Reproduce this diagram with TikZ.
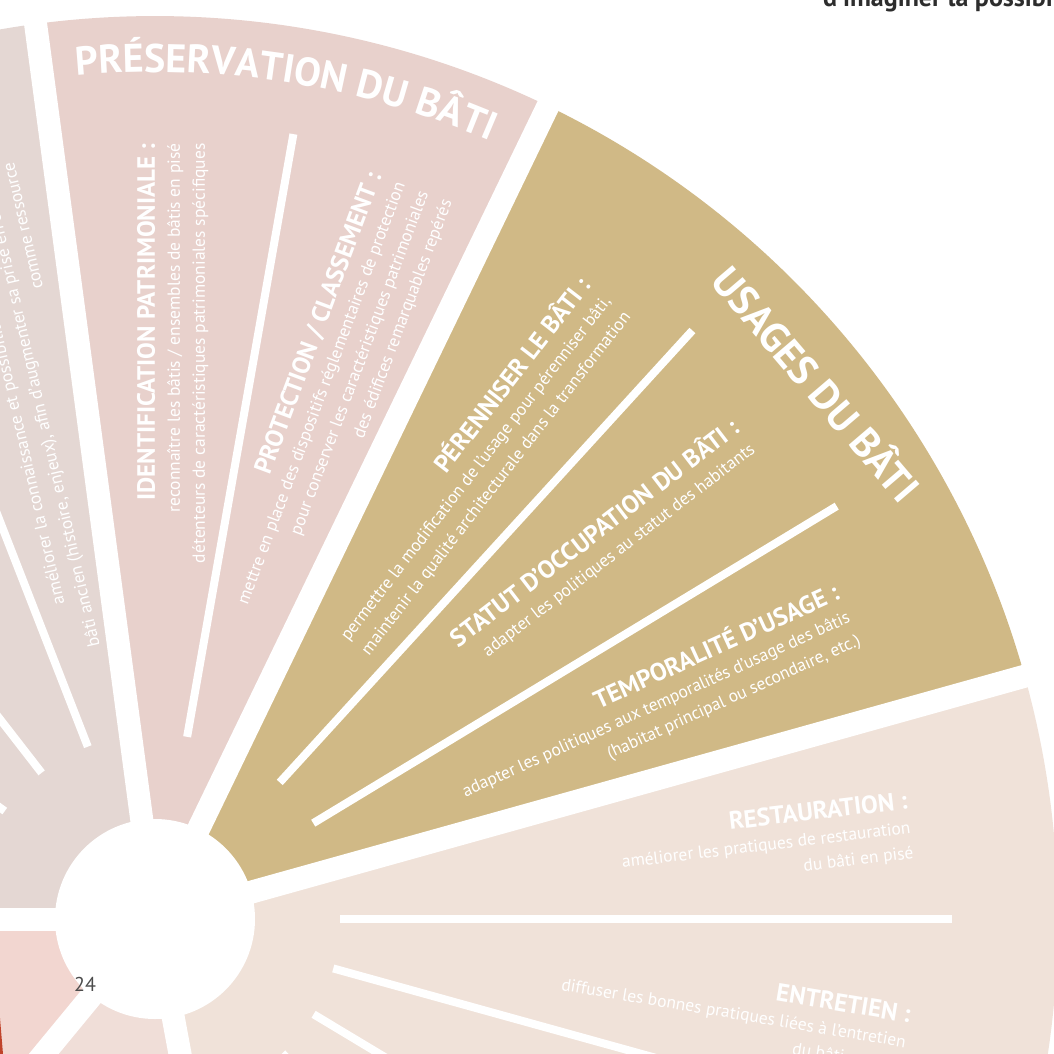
\documentclass[tikz,border=0pt]{standalone}
\usepackage{fontspec}
\setmainfont{PT Sans}
\usepackage{tikz}
\usetikzlibrary{decorations.text}

\definecolor{grisrose}{HTML}{E4D7D3}
\definecolor{rosepres}{HTML}{E8D1CC}
\definecolor{orusage}{HTML}{D0B986}
\definecolor{peche}{HTML}{F0E2D9}
\definecolor{saumon}{HTML}{F2D6D0}
\definecolor{rosebas}{HTML}{F0DED8}
\definecolor{brique}{HTML}{C0432B}
\definecolor{encre}{HTML}{2D2D2D}

\newcommand{\titrebloc}{\fontsize{25}{25}\selectfont\bfseries}

\begin{document}
\begin{tikzpicture}[x=1pt, y=1pt,
    bloc/.style={anchor=east, inner sep=0pt, align=right, text=white,
                 font=\fontsize{17.5}{25}\selectfont},
    trait/.style={white, line width=8pt},
    fente/.style={white, line width=23pt}]
    \useasboundingbox (0,0) rectangle (1054,-1054);
    \clip (0,0) rectangle (1054,-1054);
    \fill[white] (0,0) rectangle (1054,-1054);

    \begin{scope}[shift={(155,-919)}]
        % Secteurs de la roue
        \fill[grisrose] (0,0) -- (97.6:903) arc[start angle=97.6, end angle=180, radius=903] -- cycle;
        \fill[rosepres] (0,0) -- (64.2:903) arc[start angle=64.2, end angle=97.6, radius=903] -- cycle;
        \fill[orusage] (0,0) -- (15.6:903) arc[start angle=15.6, end angle=64.2, radius=903] -- cycle;
        \fill[peche] (0,0) -- (-79.5:903) arc[start angle=-79.5, end angle=15.6, radius=903] -- cycle;
        \fill[saumon] (0,0) -- (180:903) arc[start angle=180, end angle=230.5, radius=903] -- cycle;
        \fill[rosebas] (0,0) -- (230.5:903) arc[start angle=230.5, end angle=280.5, radius=903] -- cycle;

        % Separations entre secteurs
        \foreach \a in {15.6, 64.2, 97.6, 180, 230.5, 280.5}
            \draw[fente] (0,0) -- (\a:1000);

        % Traits entre les rubriques
        \foreach \a in {-62, -46.5, -31, -15.5, 0, 31.2, 47.6, 80, 111.3, 127.8, 144.3, 160.9}
            \draw[trait] (\a:185) -- (\a:797);

        % Moyeu
        \fill[white] (0,0) circle (100);

        % Titres des secteurs
        \path[decorate, decoration={text along path, text align=center,
            text={|\fontsize{40}{40}\selectfont\bfseries\color{white}|PRÉSERVATION DU BÂTI}}]
            (96.5:847) arc[start angle=96.5, end angle=65.5, radius=847];
        \node[text=white, font=\fontsize{41}{41}\selectfont\bfseries, rotate=-49.5]
            (usages) at (39:853) {USAGES DU BÂTI};

        % Rubriques
        \node[bloc, rotate=103] (diagnostic) at (104:770)
            {{\titrebloc DIAGNOSTIC :}\\
             améliorer la connaissance et possibilité de prise en compte\\
             bâti ancien (histoire, enjeux), afin d’augmenter sa prise en compte\\
             comme ressource};
        \node[bloc, rotate=90] (identification) at (88.7:776)
            {{\titrebloc IDENTIFICATION PATRIMONIALE :}\\
             reconnaître les bâtis / ensembles de bâtis en pisé\\
             détenteurs de caractéristiques patrimoniales spécifiques};
        \node[bloc, rotate=69.5] (protection) at (70.8:776)
            {{\titrebloc PROTECTION / CLASSEMENT :}\\
             mettre en place des dispositifs réglementaires de protection\\
             pour conserver les caractéristiques patrimoniales\\
             des édifices remarquables repérés};
        \node[bloc, rotate=52.3] (perenniser) at (54.2:768)
            {{\titrebloc PÉRENNISER LE BÂTI :}\\
             permettre la modification de l’usage pour pérenniser bâti,\\
             maintenir la qualité architecturale dans la transformation};
        \node[bloc, rotate=37.5] (statut) at (39.5:762)
            {{\titrebloc STATUT D’OCCUPATION DU BÂTI :}\\
             adapter les politiques au statut des habitants};
        \node[bloc, rotate=24.5] (temporalite) at (23.8:757)
            {{\titrebloc TEMPORALITÉ D’USAGE :}\\
             adapter les politiques aux temporalités d’usage des bâtis\\
             (habitat principal ou secondaire, etc.)};
        \node[bloc, rotate=6.8] (restauration) at (7:761)
            {{\titrebloc RESTAURATION :}\\
             améliorer les pratiques de restauration\\
             du bâti en pisé};
        \node[bloc, rotate=-9.5] (entretien) at (-9.2:761)
            {{\titrebloc ENTRETIEN :}\\
             diffuser les bonnes pratiques liées à l’entretien\\
             du bâti en pisé};
    \end{scope}

    % Bord de page
    \fill[brique] (0,-1018) -- (3,-1054) -- (0,-1054) -- cycle;
    \node[text=encre!85, font=\fontsize{20}{20}\selectfont, inner sep=0pt] (page) at (85,-984) {24};
    \node[text=encre, font=\fontsize{26}{26}\selectfont\bfseries, anchor=base west, inner sep=0pt]
        (entete) at (823,-7) {d’imaginer la possibilité};
\end{tikzpicture}
\end{document}
